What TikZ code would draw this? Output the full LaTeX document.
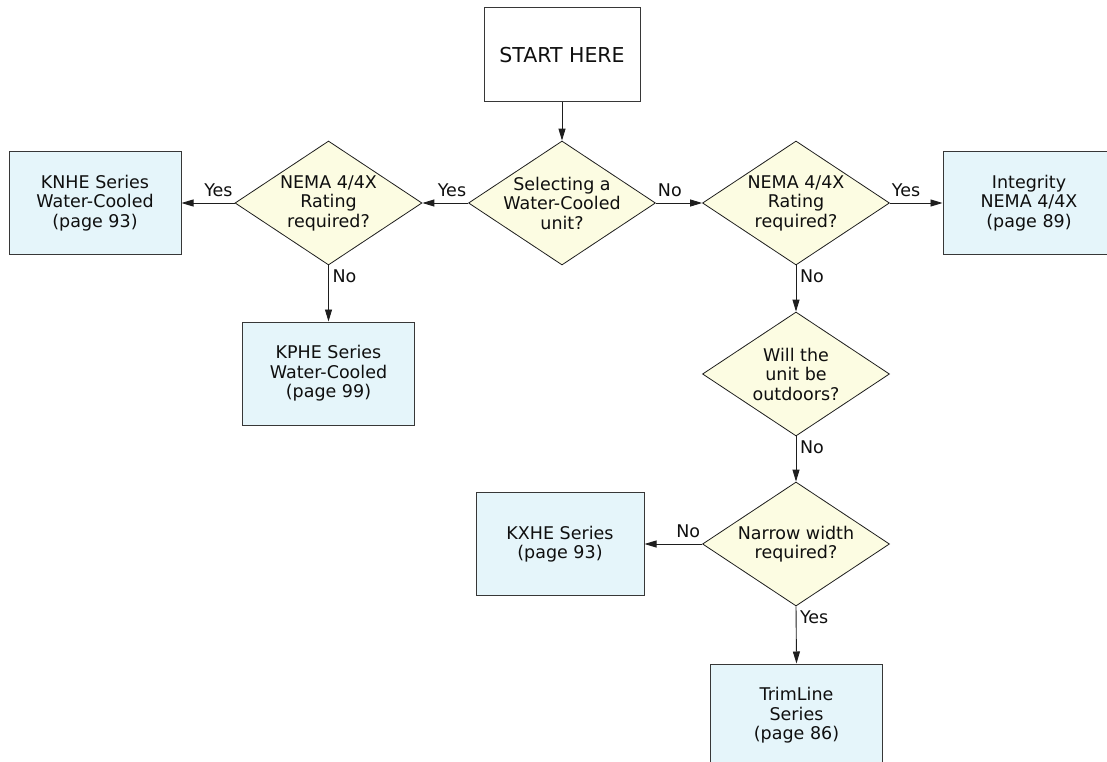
\documentclass[tikz,border=0pt]{standalone}
\usepackage{fontspec}
\setmainfont{DejaVu Sans}
\usetikzlibrary{shapes.geometric,arrows.meta}
\definecolor{dfill}{RGB}{252,252,226}
\definecolor{bfill}{RGB}{229,245,250}
\definecolor{lc}{RGB}{30,30,30}
\definecolor{bc}{RGB}{55,55,55}
\definecolor{tc}{RGB}{15,15,15}
\begin{document}
\begin{tikzpicture}[x=1pt,y=-1pt,
  every node/.style={font=\fontsize{17.5}{19.5}\selectfont, text=tc},
  startbox/.style={draw=bc, line width=1pt, fill=white, minimum width=156pt, minimum height=94pt, inner sep=0pt, font=\fontsize{20.5}{24}\selectfont},
  box/.style={draw=bc, line width=1pt, fill=bfill, minimum width=172pt, minimum height=103pt, align=center, inner sep=0pt},
  dec/.style={draw=lc, line width=0.8pt, fill=dfill, shape=diamond, minimum width=187pt, minimum height=124pt, inner sep=-25pt, align=center},
  conn/.style={draw=lc, line width=0.9pt, -{Triangle[length=12pt,width=7pt]}},
  lblh/.style={inner xsep=2pt, inner ysep=6pt, outer sep=0pt},
  lblv/.style={inner xsep=4pt, inner ysep=4pt, outer sep=0pt, anchor=north west},
]
\useasboundingbox (0,0) rectangle (1107,762);
\clip (0,0) rectangle (1107,762);
\node[startbox] (start) at (562,55) {START HERE};
\node[dec] (d1) at (562,203) {Selecting a\\Water-Cooled\\unit?};
\node[dec] (nl) at (328.5,203) {NEMA 4/4X\\Rating\\required?};
\node[dec] (nr) at (796,203) {NEMA 4/4X\\Rating\\required?};
\node[dec] (out) at (796,374) {Will the\\unit be\\outdoors?};
\node[dec] (nar) at (796,544) {Narrow width\\required?};
\node[box] (knhe) at (95,203) {KNHE Series\\Water-Cooled\\(page 93)};
\node[box] (kphe) at (328.5,373.5) {KPHE Series\\Water-Cooled\\(page 99)};
\node[box] (integ) at (1029,203) {Integrity\\NEMA 4/4X\\(page 89)};
\node[box, minimum width=168pt] (kxhe) at (560,544) {KXHE Series\\(page 93)};
\node[box] (trim) at (796.5,715.5) {TrimLine\\Series\\(page 86)};
\draw[conn] (start) -- (d1);
\draw[conn] (d1.west) -- node[pos=0, lblh, anchor=south east] {Yes} (nl.east);
\draw[conn] (d1.east) -- node[pos=0, lblh, anchor=south west] {No} (nr.west);
\draw[conn] (nl.west) -- node[pos=0, lblh, anchor=south east] {Yes} (knhe.east);
\draw[conn] (nl.south) -- node[pos=0, lblv] {No} (kphe.north);
\draw[conn] (nr.east) -- node[pos=0, lblh, anchor=south west] {Yes} (integ.west);
\draw[conn] (nr.south) -- node[pos=0, lblv] {No} (out.north);
\draw[conn] (out.south) -- node[pos=0, lblv] {No} (nar.north);
\draw[conn] (nar.west) -- node[pos=0, lblh, anchor=south east] {No} (kxhe.east);
\draw[conn] (nar.south) -- node[pos=0, lblv] {Yes} (trim.north);
\end{tikzpicture}
\end{document}
